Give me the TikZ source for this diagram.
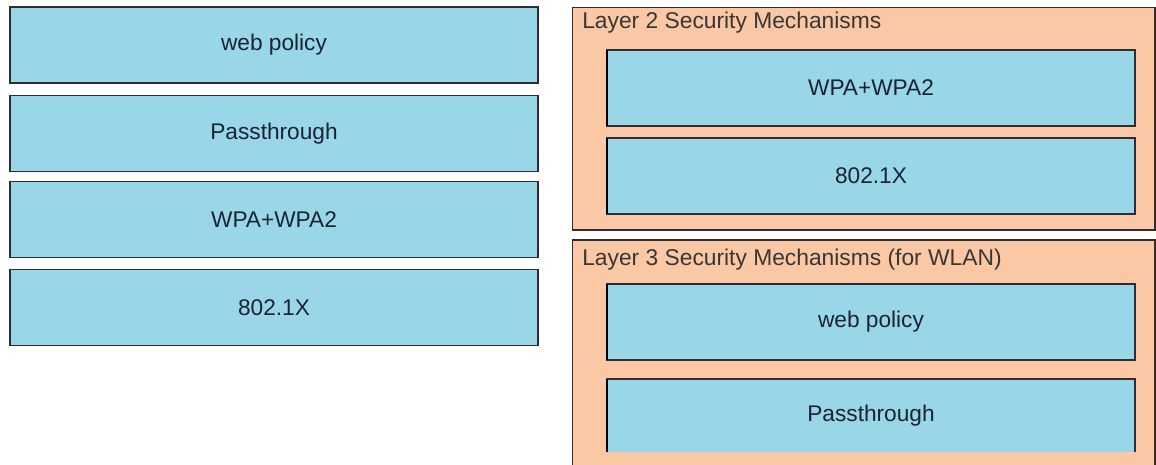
\documentclass[tikz,border=0pt]{standalone}
\usepackage{fontspec}
\setmainfont{Liberation Sans}
\definecolor{itemblue}{RGB}{153,215,232}
\definecolor{panelorange}{RGB}{250,200,165}
\definecolor{edgegray}{RGB}{45,45,50}
\definecolor{textdark}{RGB}{25,35,50}
\begin{document}
\begin{tikzpicture}[x=0.75pt,y=-0.75pt,
    item/.style={rectangle, draw=edgegray, fill=itemblue, line width=1pt,
      inner sep=0pt, outer sep=0pt, minimum width=396pt, minimum height=57pt,
      text=textdark, font=\fontsize{17}{20}\selectfont},
    panel/.style={rectangle, draw=edgegray, fill=panelorange, line width=1pt,
      inner sep=0pt, outer sep=0pt, minimum width=437pt},
    paneltitle/.style={anchor=west, inner sep=0pt, text=textdark!80!brown,
      font=\fontsize{17.1}{20}\selectfont},
    leftedge/.style={line width=1.8pt, black}]
  \useasboundingbox (0,0) rectangle (1156,464);
  \clip (0,0) rectangle (1156,464);

  % choices on the left
  \node[item] (webpolicy) at (274,45) {web policy};
  \node[item] (passthrough) at (274,133.5) {Passthrough};
  \node[item] (wpa) at (274,219.5) {WPA+WPA2};
  \node[item] (dot1x) at (274,307.5) {802.1X};

  % layer 2 panel
  \node[panel, minimum height=167pt] (layertwo) at (863.5,118.5) {};
  \node[paneltitle] (layertwo-title) at (582,23) {Layer 2 Security Mechanisms};
  \node[item] (l2-wpa) at (871,88) {WPA+WPA2};
  \node[item] (l2-dot1x) at (871,176) {802.1X};
  \draw[leftedge] (l2-wpa.north west) -- (l2-wpa.south west);
  \draw[leftedge] (l2-dot1x.north west) -- (l2-dot1x.south west);

  % layer 3 panel, runs off the bottom
  \node[panel, minimum height=180pt] (layerthree) at (863.5,360) {};
  \node[paneltitle] (layerthree-title) at (582,260) {Layer 3 Security Mechanisms (for WLAN)};
  \node[item] (l3-webpolicy) at (871,322) {web policy};
  \node[item, draw=none, minimum height=55pt] (l3-passthrough) at (871,415.5) {Passthrough};
  \draw[edgegray, line width=1pt] (l3-passthrough.south west) |- (l3-passthrough.north east)
    -- (l3-passthrough.south east);
  \draw[leftedge] (l3-webpolicy.north west) -- (l3-webpolicy.south west);
  \draw[leftedge] (l3-passthrough.north west) -- (l3-passthrough.south west);
\end{tikzpicture}
\end{document}
